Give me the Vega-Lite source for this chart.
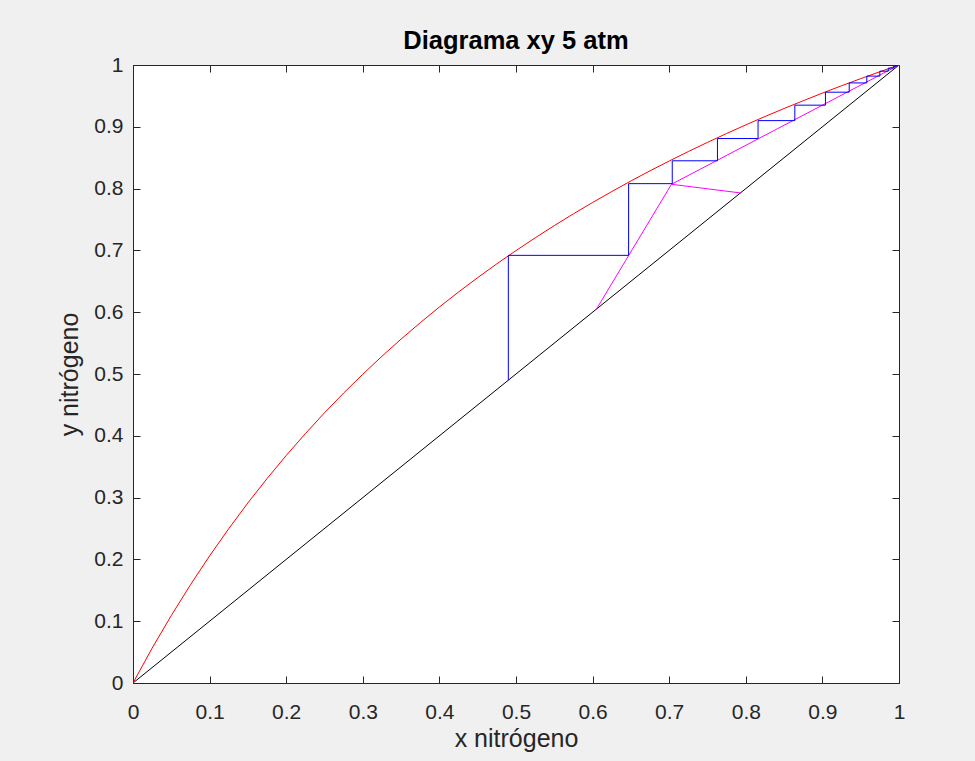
{
  "$schema": "https://vega.github.io/schema/vega-lite/v6.json",
  "width": 766,
  "height": 618,
  "autosize": "none",
  "padding": {"left": 133, "top": 65, "right": 76, "bottom": 78},
  "background": "#f0f0f0",
  "title": {
    "text": "Diagrama xy 5 atm",
    "font": "Liberation Sans",
    "fontSize": 25.5,
    "fontWeight": "bold",
    "color": "#000000",
    "anchor": "middle",
    "baseline": "alphabetic",
    "frame": "group",
    "offset": 13,
    "dy": 33
  },
  "config": {
    "view": {"fill": "#ffffff", "stroke": "#262626", "strokeWidth": 1},
    "axis": {
      "grid": false,
      "domain": false,
      "tickColor": "#262626",
      "tickWidth": 1,
      "tickSize": -7,
      "labelFont": "Liberation Sans",
      "labelFontSize": 21,
      "labelColor": "#262626",
      "titleFont": "Liberation Sans",
      "titleFontSize": 25,
      "titleFontWeight": "normal",
      "titleColor": "#262626"
    }
  },
  "data": {
    "values": [
      {"s": "diag", "i": 1, "x": 0, "y": 0},
      {"s": "diag", "i": 2, "x": 1, "y": 1},
      {"s": "eq", "i": 1, "x": 0, "y": 0},
      {"s": "eq", "i": 2, "x": 0.025, "y": 0.0564},
      {"s": "eq", "i": 3, "x": 0.05, "y": 0.1092},
      {"s": "eq", "i": 4, "x": 0.075, "y": 0.1589},
      {"s": "eq", "i": 5, "x": 0.1, "y": 0.2057},
      {"s": "eq", "i": 6, "x": 0.125, "y": 0.2497},
      {"s": "eq", "i": 7, "x": 0.15, "y": 0.2914},
      {"s": "eq", "i": 8, "x": 0.175, "y": 0.3308},
      {"s": "eq", "i": 9, "x": 0.2, "y": 0.3681},
      {"s": "eq", "i": 10, "x": 0.225, "y": 0.4035},
      {"s": "eq", "i": 11, "x": 0.25, "y": 0.4372},
      {"s": "eq", "i": 12, "x": 0.275, "y": 0.4692},
      {"s": "eq", "i": 13, "x": 0.3, "y": 0.4996},
      {"s": "eq", "i": 14, "x": 0.325, "y": 0.5287},
      {"s": "eq", "i": 15, "x": 0.35, "y": 0.5565},
      {"s": "eq", "i": 16, "x": 0.375, "y": 0.583},
      {"s": "eq", "i": 17, "x": 0.4, "y": 0.6084},
      {"s": "eq", "i": 18, "x": 0.425, "y": 0.6327},
      {"s": "eq", "i": 19, "x": 0.45, "y": 0.6559},
      {"s": "eq", "i": 20, "x": 0.475, "y": 0.6783},
      {"s": "eq", "i": 21, "x": 0.5, "y": 0.6997},
      {"s": "eq", "i": 22, "x": 0.525, "y": 0.7203},
      {"s": "eq", "i": 23, "x": 0.55, "y": 0.7401},
      {"s": "eq", "i": 24, "x": 0.575, "y": 0.7592},
      {"s": "eq", "i": 25, "x": 0.6, "y": 0.7775},
      {"s": "eq", "i": 26, "x": 0.625, "y": 0.7952},
      {"s": "eq", "i": 27, "x": 0.65, "y": 0.8123},
      {"s": "eq", "i": 28, "x": 0.675, "y": 0.8288},
      {"s": "eq", "i": 29, "x": 0.7, "y": 0.8446},
      {"s": "eq", "i": 30, "x": 0.725, "y": 0.86},
      {"s": "eq", "i": 31, "x": 0.75, "y": 0.8748},
      {"s": "eq", "i": 32, "x": 0.775, "y": 0.8892},
      {"s": "eq", "i": 33, "x": 0.8, "y": 0.9031},
      {"s": "eq", "i": 34, "x": 0.825, "y": 0.9166},
      {"s": "eq", "i": 35, "x": 0.85, "y": 0.9296},
      {"s": "eq", "i": 36, "x": 0.875, "y": 0.9422},
      {"s": "eq", "i": 37, "x": 0.9, "y": 0.9545},
      {"s": "eq", "i": 38, "x": 0.925, "y": 0.9664},
      {"s": "eq", "i": 39, "x": 0.95, "y": 0.9779},
      {"s": "eq", "i": 40, "x": 0.975, "y": 0.9891},
      {"s": "eq", "i": 41, "x": 1, "y": 1},
      {"s": "strip", "i": 1, "x": 0.605, "y": 0.605},
      {"s": "strip", "i": 2, "x": 0.703, "y": 0.807},
      {"s": "q", "i": 1, "x": 0.703, "y": 0.807},
      {"s": "q", "i": 2, "x": 0.793, "y": 0.793},
      {"s": "rect", "i": 1, "x": 0.703, "y": 0.807},
      {"s": "rect", "i": 2, "x": 1, "y": 1},
      {"s": "steps", "i": 1, "x": 0.49, "y": 0.49},
      {"s": "steps", "i": 2, "x": 0.49, "y": 0.692},
      {"s": "steps", "i": 3, "x": 0.647, "y": 0.692},
      {"s": "steps", "i": 4, "x": 0.647, "y": 0.808},
      {"s": "steps", "i": 5, "x": 0.704, "y": 0.808},
      {"s": "steps", "i": 6, "x": 0.704, "y": 0.845},
      {"s": "steps", "i": 7, "x": 0.763, "y": 0.845},
      {"s": "steps", "i": 8, "x": 0.763, "y": 0.881},
      {"s": "steps", "i": 9, "x": 0.816, "y": 0.881},
      {"s": "steps", "i": 10, "x": 0.816, "y": 0.91},
      {"s": "steps", "i": 11, "x": 0.864, "y": 0.91},
      {"s": "steps", "i": 12, "x": 0.864, "y": 0.935},
      {"s": "steps", "i": 13, "x": 0.904, "y": 0.935},
      {"s": "steps", "i": 14, "x": 0.904, "y": 0.956},
      {"s": "steps", "i": 15, "x": 0.935, "y": 0.956},
      {"s": "steps", "i": 16, "x": 0.935, "y": 0.971},
      {"s": "steps", "i": 17, "x": 0.958, "y": 0.971},
      {"s": "steps", "i": 18, "x": 0.958, "y": 0.982},
      {"s": "steps", "i": 19, "x": 0.975, "y": 0.982},
      {"s": "steps", "i": 20, "x": 0.975, "y": 0.99},
      {"s": "steps", "i": 21, "x": 0.986, "y": 0.99},
      {"s": "steps", "i": 22, "x": 0.986, "y": 0.995},
      {"s": "steps", "i": 23, "x": 0.993, "y": 0.995},
      {"s": "steps", "i": 24, "x": 0.993, "y": 0.998},
      {"s": "steps", "i": 25, "x": 0.997, "y": 0.998},
      {"s": "steps", "i": 26, "x": 0.997, "y": 0.999},
      {"s": "steps", "i": 27, "x": 0.999, "y": 0.999}
    ]
  },
  "layer": [
    {
      "mark": {"type": "line", "strokeWidth": 1, "clip": true},
      "encoding": {
        "x": {
          "field": "x", "type": "quantitative",
          "scale": {"domain": [0, 1], "nice": false, "zero": false},
          "axis": {
            "orient": "bottom",
            "values": [0, 0.1, 0.2, 0.3, 0.4, 0.5, 0.6, 0.7, 0.8, 0.9, 1],
            "labelExpr": "datum.value == 0 ? '0' : datum.value == 1 ? '1' : format(datum.value, '.1f')",
            "labelPadding": 25,
            "labelBaseline": "top",
            "labelFlush": false,
            "title": "x nitrógeno",
            "titlePadding": 4
          }
        },
        "y": {
          "field": "y", "type": "quantitative",
          "scale": {"domain": [0, 1], "nice": false, "zero": false},
          "axis": {
            "orient": "left",
            "values": [0, 0.1, 0.2, 0.3, 0.4, 0.5, 0.6, 0.7, 0.8, 0.9, 1],
            "labelExpr": "datum.value == 0 ? '0' : datum.value == 1 ? '1' : format(datum.value, '.1f')",
            "labelPadding": 17,
            "labelFlush": false,
            "title": "y nitrógeno",
            "titlePadding": 11
          }
        },
        "detail": {"field": "s"},
        "order": {"field": "i", "type": "quantitative"},
        "color": {
          "field": "s", "type": "nominal", "legend": null,
          "scale": {
            "domain": ["diag", "eq", "strip", "q", "rect", "steps"],
            "range": ["#000000", "#ff0000", "#ff00ff", "#ff00ff", "#ff00ff", "#0000ff"]
          }
        },
        "strokeWidth": {
          "field": "s", "type": "nominal", "legend": null,
          "scale": {
            "domain": ["diag", "eq", "strip", "q", "rect", "steps"],
            "range": [1, 1, 1.2, 1.2, 1.2, 1.5]
          }
        }
      }
    },
    {
      "mark": {"type": "point", "opacity": 0},
      "encoding": {
        "x": {
          "field": "x", "type": "quantitative",
          "scale": {"domain": [0, 1], "nice": false, "zero": false},
          "axis": {
            "orient": "top",
            "values": [0, 0.1, 0.2, 0.3, 0.4, 0.5, 0.6, 0.7, 0.8, 0.9, 1],
            "labels": false,
            "title": null
          }
        },
        "y": {
          "field": "y", "type": "quantitative",
          "scale": {"domain": [0, 1], "nice": false, "zero": false},
          "axis": {
            "orient": "right",
            "values": [0, 0.1, 0.2, 0.3, 0.4, 0.5, 0.6, 0.7, 0.8, 0.9, 1],
            "labels": false,
            "title": null
          }
        }
      }
    }
  ],
  "resolve": {"axis": {"x": "independent", "y": "independent"}}
}
